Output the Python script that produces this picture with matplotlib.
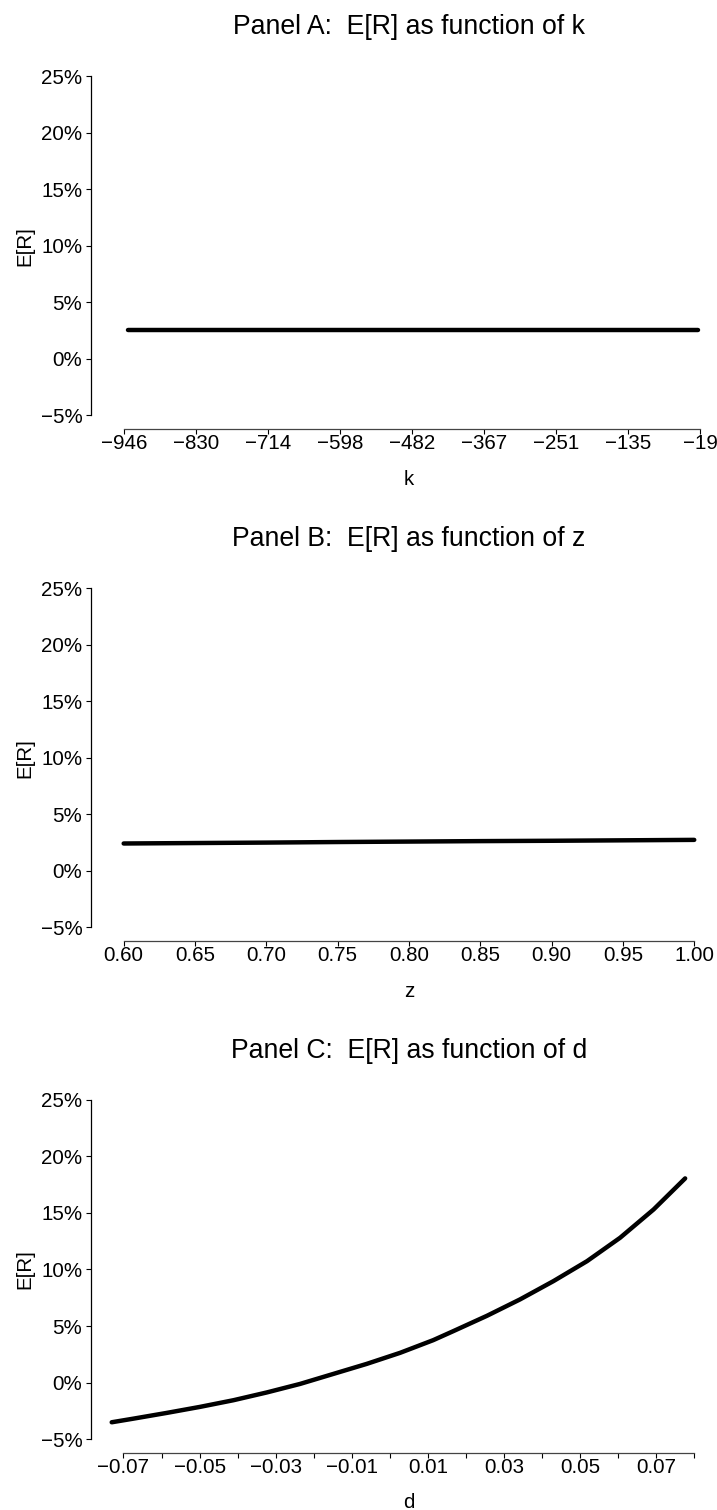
import matplotlib
matplotlib.use('Agg')
import matplotlib.pyplot as plt
import numpy as np

plt.rcParams['font.family'] = ['Liberation Sans', 'DejaVu Sans']

# ---------------- data ----------------
k_values = [-940, -825, -710, -595, -480, -365, -250, -135, -22]
ER_k = [2.57, 2.57, 2.57, 2.57, 2.57, 2.57, 2.57, 2.57, 2.57]
k_ticks = [-946, -830.125, -714.25, -598.375, -482.5, -366.625, -250.75, -134.875, -19]
k_ticklabels = ['\u2212946', '\u2212830', '\u2212714', '\u2212598', '\u2212482',
                '\u2212367', '\u2212251', '\u2212135', '\u221219']

z_values = [0.60, 0.65, 0.70, 0.75, 0.80, 0.85, 0.90, 0.95, 1.00]
ER_z = [2.42, 2.46, 2.50, 2.55, 2.59, 2.63, 2.66, 2.70, 2.74]
z_ticks = [0.60, 0.65, 0.70, 0.75, 0.80, 0.85, 0.90, 0.95, 1.00]
z_ticklabels = ['0.60', '0.65', '0.70', '0.75', '0.80', '0.85', '0.90', '0.95', '1.00']

d_values = [-0.0731, -0.0674, -0.0586, -0.0499, -0.0411, -0.0323, -0.0236, -0.0148,
            -0.0061, 0.0027, 0.0114, 0.0167, 0.0255, 0.0342, 0.0430, 0.0518,
            0.0605, 0.0693, 0.0776]
ER_d = [-3.51, -3.19, -2.68, -2.15, -1.56, -0.87, -0.12, 0.77,
        1.65, 2.63, 3.75, 4.55, 5.90, 7.35, 8.97, 10.73,
        12.80, 15.30, 18.05]
d_ticks = [-0.07, -0.06, -0.05, -0.04, -0.03, -0.02, -0.01, 0.00,
           0.01, 0.02, 0.03, 0.04, 0.05, 0.06, 0.07, 0.08]
d_ticklabels = ['\u22120.07', '', '\u22120.05', '', '\u22120.03', '', '\u22120.01', '',
                '0.01', '', '0.03', '', '0.05', '', '0.07', '']

y_ticks = [-5, 0, 5, 10, 15, 20, 25]
y_ticklabels = ['\u22125%', '0%', '5%', '10%', '15%', '20%', '25%']

titles = ['Panel A:  E[R] as function of k',
          'Panel B:  E[R] as function of z',
          'Panel C:  E[R] as function of d']
xlabels = ['k', 'z', 'd']

# ---------------- layout ----------------
W, H = 717, 1510
fig = plt.figure(figsize=(W / 100, H / 100), dpi=100)

left_px, right_px = 91, 709.5
bottoms_px = [429, 941, 1452.7]
height_px = 366.5
xlims = [(-999, -4.3), (0.5771, 1.0107), (-0.07854, 0.0840)]

panels = [
    (k_values, ER_k, k_ticks, k_ticklabels),
    (z_values, ER_z, z_ticks, z_ticklabels),
    (d_values, ER_d, d_ticks, d_ticklabels),
]

tick_fs = 14.8
center_x = 409 / W

for i, (xv, yv, xt, xtl) in enumerate(panels):
    b = bottoms_px[i]
    ax = fig.add_axes([left_px / W, 1 - b / H, (right_px - left_px) / W, height_px / H])
    ax.plot(xv, yv, color='black', lw=3.2, solid_capstyle='round',
            solid_joinstyle='round')
    ax.set_xlim(*xlims[i])
    ax.set_ylim(-6.2, 26.2)
    for s in ['top', 'right']:
        ax.spines[s].set_visible(False)
    ax.spines['left'].set_bounds(-5, 25)
    ax.spines['bottom'].set_bounds(xt[0], xt[-1])
    ax.spines['left'].set_linewidth(0.9)
    ax.spines['bottom'].set_linewidth(0.9)
    ax.spines['bottom'].set_color('#444444')
    ax.set_xticks(xt)
    ax.set_xticklabels(xtl)
    ax.set_yticks(y_ticks)
    ax.set_yticklabels(y_ticklabels)
    ax.tick_params(axis='both', direction='out', length=3.3, width=0.8,
                   labelsize=tick_fs, colors='black')
    ax.tick_params(axis='x', pad=0.5)
    ax.tick_params(axis='y', pad=3.0)
    # title
    fig.text(center_x, 1 - (b - height_px - 28.5) / H, titles[i],
             ha='center', va='baseline', fontsize=19.2)
    # x label
    fig.text(center_x, 1 - (b + 55.6) / H, xlabels[i],
             ha='center', va='baseline', fontsize=tick_fs)
    # y label
    fig.text(25 / W, 1 - (b - height_px / 2) / H, 'E[R]', rotation=90,
             ha='center', va='center', fontsize=tick_fs)

fig.savefig('out.png', dpi=100, facecolor='white')
